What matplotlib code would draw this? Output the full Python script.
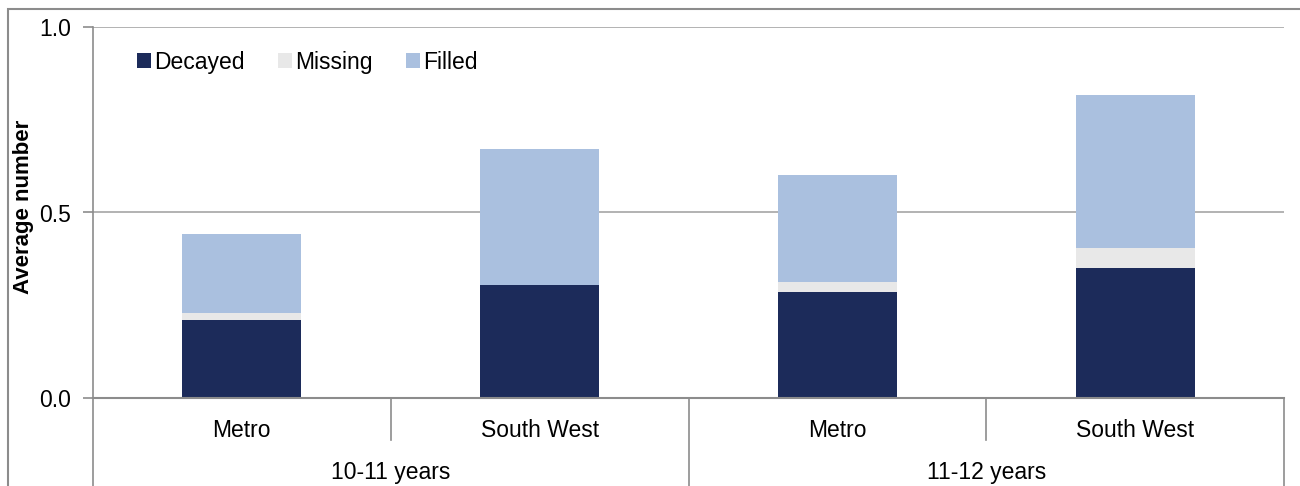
import matplotlib
matplotlib.use("Agg")
import matplotlib.pyplot as plt
from matplotlib.patches import Rectangle
import numpy as np

plt.rcParams['font.family'] = ['Liberation Sans', 'DejaVu Sans']

groups = ["10-11 years", "11-12 years"]
regions = ["Metro", "South West", "Metro", "South West"]
decayed = [0.21, 0.305, 0.286, 0.350]
missing = [0.02, 0.0, 0.027, 0.054]
filled = [0.212, 0.366, 0.288, 0.413]
series_names = ["Decayed", "Missing", "Filled"]
colors = ["#1c2b5a", "#e8e8e8", "#aac0df"]
yticks = [0.0, 0.5, 1.0]

FS = 16.5
W, H = 1300, 486
fig = plt.figure(figsize=(W / 100, H / 100), dpi=100)
L, R, T, B = 93, 1284, 27, 398
ax = fig.add_axes([L / W, 1 - B / H, (R - L) / W, (B - T) / H])

x = np.arange(len(regions))
bw = 0.4
bottom = np.zeros(len(regions))
for vals, name, c in zip([decayed, missing, filled], series_names, colors):
    ax.bar(x, vals, bw, bottom=bottom, color=c, label=name, zorder=3)
    bottom += np.array(vals)

ax.set_xlim(-0.5, len(regions) - 0.5)
ax.set_ylim(0, 1.0)
ax.set_yticks(yticks)
ax.set_yticklabels([f"{v:.1f}" for v in yticks])
ax.yaxis.grid(True, color="#a6a6a6", linewidth=1.2, zorder=0)
ax.set_axisbelow(True)
for s in ["top", "right", "bottom"]:
    ax.spines[s].set_visible(False)
ax.spines["left"].set_color("#8c8c8c")
ax.spines["left"].set_linewidth(1.2)
ax.tick_params(axis="y", length=7, width=1.2, color="#8c8c8c", labelsize=FS, pad=9)
ax.tick_params(axis="x", length=0, labelbottom=False)
fig.text(24 / W, 1 - 207 / H, "Average number", rotation=90, ha="center", va="center",
         fontsize=16, fontweight="bold")

# zero line
ax.axhline(0, color="#8c8c8c", linewidth=1.5, zorder=4, clip_on=False)

# hierarchical category axis
tr = ax.get_xaxis_transform()
px = 1 / (B - T)
short_y = -(440 - B) * px
long_y = -(H - B + 5) * px
for i in range(len(regions) + 1):
    xe = i - 0.5
    yb = long_y if i % 2 == 0 else short_y
    ax.plot([xe, xe], [0, yb], transform=tr, color="#8c8c8c", lw=1.2, clip_on=False)
for i, r in enumerate(regions):
    ax.text(i, -(430 - B) * px, r, transform=tr, ha="center", va="center", fontsize=FS)
for g, name in enumerate(groups):
    ax.text(2 * g + 0.5, -(472 - B) * px, name, transform=tr, ha="center", va="center", fontsize=FS)

leg = ax.legend(loc="upper left", bbox_to_anchor=(0.0295, 0.961), ncol=3, frameon=False,
                fontsize=FS, handlelength=0.6, handleheight=0.6, handletextpad=0.15,
                columnspacing=1.45, borderaxespad=0)

# outer chart border
fig.patches.append(Rectangle((8 / W, -0.05), 1.1, 1 - 9 / H + 0.05,
                             transform=fig.transFigure, fill=False,
                             edgecolor="#8c8c8c", linewidth=1.5))

fig.savefig("out.png", dpi=100)
